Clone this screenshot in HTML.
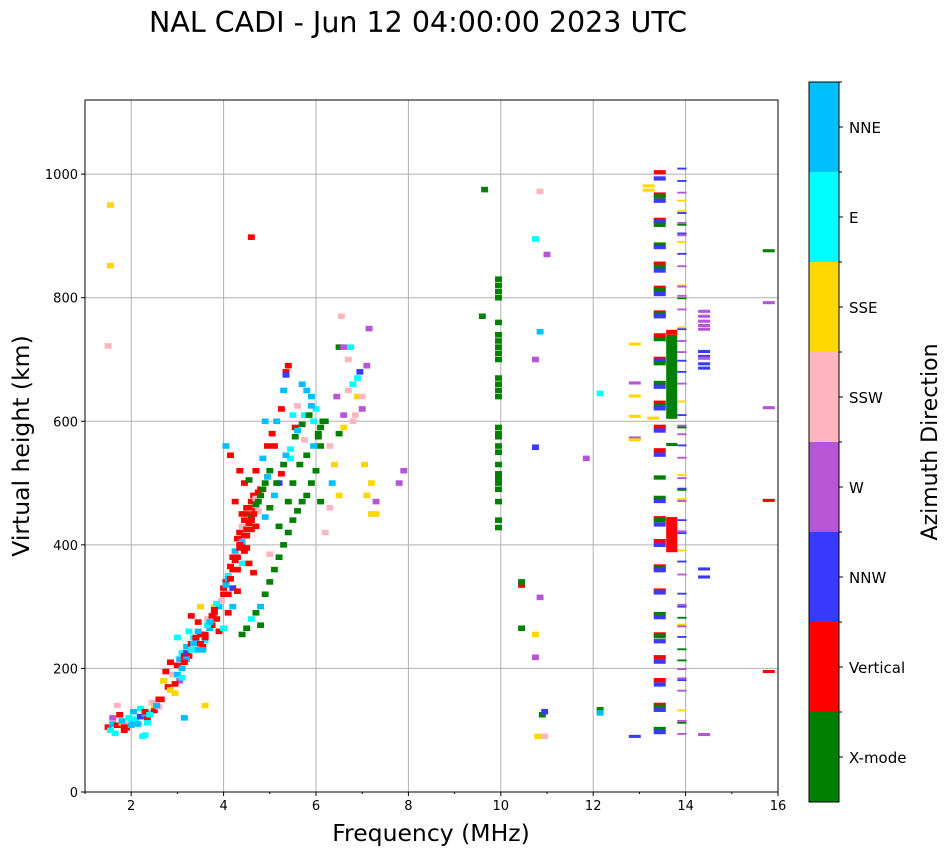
<!DOCTYPE html>
<html><head><meta charset="utf-8">
<style>
body{margin:0;background:#fff;font-family:"Liberation Sans","DejaVu Sans",sans-serif;}
svg text{font-family:"DejaVu Sans","Liberation Sans",sans-serif;}
</style></head>
<body>
<svg id="chart" width="951" height="856" viewBox="0 0 951 856" xmlns="http://www.w3.org/2000/svg">
<rect width="951" height="856" fill="#fff"/>
<text x="418" y="32" font-size="28.5" text-anchor="middle">NAL CADI - Jun 12 04:00:00 2023 UTC</text>
<g id="grid"></g>
<g id="marks"></g>
<rect x="85" y="100" width="693" height="692" fill="none" stroke="#000" stroke-width="1"/>
<g id="axes"></g>
<text x="431" y="841" font-size="23.5" text-anchor="middle">Frequency (MHz)</text>
<text transform="translate(29,446) rotate(-90)" font-size="23.5" text-anchor="middle">Virtual height (km)</text>
<g id="cbar"></g>
<text transform="translate(937,442) rotate(-90)" font-size="22" text-anchor="middle">Azimuth Direction</text>
</svg>
<script>
const catNames=["X-mode","Vertical","NNW","W","SSW","SSE","E","NNE"];
const catColors=["#008000","#ff0000","#3a3aff","#b655d6","#ffb6c1","#ffd700","#00ffff","#00bfff"];
const xTicks=[2,4,6,8,10,12,14,16];
const yTicks=[0,200,400,600,800,1000];

// main trace points (freq MHz, height km, category)
const traceFreq=[1.5,1.55,1.6,1.7,1.8,1.9,2.0,2.1,2.2,2.3,2.4,2.5,2.6,1.6,1.75,1.9,2.05,2.2,2.35,2.5,2.6,1.65,1.85,2.0,2.3,2.45,2.7,2.75,2.25,1.7,
2.8,2.9,3.0,3.05,3.1,3.15,3.2,3.3,3.35,3.4,3.5,3.55,3.6,3.7,3.75,2.95,3.05,3.25,3.45,3.65,3.8,3.1,3.3,3.5,2.85,3.0,3.2,3.4,3.6,3.8,3.9,
3.85,3.9,4.0,4.05,4.1,4.15,4.2,4.25,4.3,4.35,4.4,4.45,4.5,4.55,4.6,4.65,4.7,4.75,4.8,4.0,4.1,4.2,4.3,4.4,4.5,4.6,4.7,4.2,4.3,4.4,4.5,4.6,4.1,4.25,4.45,3.95,4.05,4.15,
4.4,4.5,4.6,4.7,4.8,4.9,5.0,5.1,5.2,5.3,5.4,5.5,5.6,5.7,5.8,5.9,6.0,5.0,5.2,5.5,5.8,6.1,4.8,5.4,5.65,
4.85,4.95,5.05,5.15,5.25,5.3,5.35,5.4,5.5,5.6,5.7,5.8,5.9,6.0,6.1,4.7,4.9,5.1,5.2,5.45,5.55,5.75,5.95,6.05,
6.2,6.3,6.5,6.5,6.6,6.7,6.8,6.9,7.0,7.1,7.2,7.3,6.4,6.6,6.8,7.0,7.15,6.3,6.5,6.7,6.9,7.05,7.2,7.3,6.2,6.6,6.45,6.85,7.1,7.8,7.9,6.1,6.35,6.55,6.75,6.95,
1.55,1.55,1.5,4.6,5.35,4.35,4.55,4.75,3.6,3.15,2.35,
3.5,3.55,3.6,3.65,3.7,3.75,3.8,3.85,3.45,3.4,3.35,3.3,3.25,3.2,3.15,4.3,4.35,4.4,4.45,4.5,4.55,4.6,4.65,4.7,4.75,4.8,4.85,4.9,4.95,5.0,4.4,4.5,4.6,4.7,4.35,4.45,4.55,4.65,4.0,4.05,4.1,4.15,4.2,4.25,
1.8,1.85,1.95,2.15,2.3,2.4,2.55,2.65,2.85,2.95,3.0,3.1,
4.9,5.0,5.1,5.15,5.25,5.3,5.35,5.45,5.55,5.6,5.7,5.75,5.85,5.9,5.95,6.05,6.15,
9.95,9.95,9.95,9.95,9.95,9.95,9.95,9.95,9.95,9.95,9.95,9.95,9.95,9.95,9.95,9.95,9.95,9.95,9.95,9.95,9.95,9.95,9.95,9.95,9.95,9.95,9.95,9.95,9.6,9.65,
10.45,10.45,10.45,10.75,10.75,10.85,10.9,10.95,10.8,10.95,10.85,10.75,11.0,10.85,10.75,10.75,11.85,12.15,12.15,12.15];
const traceHeight=[105,100,110,108,112,104,115,118,122,126,128,132,138,120,125,110,130,135,118,140,150,95,100,108,92,145,180,195,90,140,
170,190,205,215,225,220,235,240,250,245,255,235,245,265,270,160,180,260,275,280,290,200,285,300,210,250,225,230,255,300,260,
280,300,320,340,350,365,380,390,410,420,430,440,450,460,470,480,475,485,490,265,290,330,360,400,415,440,455,300,325,370,395,425,345,470,500,310,560,545,
255,265,280,290,300,320,340,360,380,400,420,440,455,470,480,500,520,385,430,500,545,560,270,470,530,
540,560,580,600,620,650,680,690,610,625,660,650,640,620,590,520,600,560,500,540,590,570,560,580,
600,560,580,720,720,700,660,640,620,480,450,450,530,610,600,640,750,460,480,650,670,530,500,470,420,590,640,610,690,500,520,470,500,770,720,680,
950,852,722,898,675,520,505,455,140,120,112,
240,230,250,270,275,285,295,305,260,250,240,230,220,215,210,380,395,405,415,425,435,445,450,465,470,480,490,500,510,520,450,460,440,430,400,390,370,355,330,335,320,345,360,375,
115,105,120,110,130,125,140,150,165,175,190,185,
445,460,480,500,515,530,545,555,575,585,595,610,610,625,600,575,600,
428,440,470,490,500,505,510,515,530,550,560,575,580,590,640,650,660,670,700,710,720,730,740,760,800,810,820,830,770,975,
335,340,265,255,218,315,125,130,90,90,972,895,870,745,700,558,540,645,133,128];
const traceCat=[1,6,7,1,5,1,7,6,2,7,6,1,4,3,1,4,7,6,1,5,1,6,1,7,6,4,5,1,6,4,
1,4,1,7,6,1,7,1,6,7,1,1,6,7,1,5,3,6,1,4,1,7,1,5,1,6,2,7,1,5,1,
1,7,1,1,6,1,1,7,1,1,4,1,1,1,1,1,4,1,1,6,1,2,1,1,1,7,1,7,1,6,1,1,7,1,1,4,7,1,
0,0,6,0,7,0,0,0,0,0,0,0,0,0,0,0,0,4,0,0,0,0,0,0,0,
7,1,1,7,1,7,1,1,6,4,7,7,7,6,0,1,7,1,2,6,1,4,7,0,
0,4,0,0,3,4,6,5,3,5,5,5,5,3,4,4,3,4,5,4,6,5,5,3,4,5,3,4,3,3,3,0,7,4,6,2,
5,5,4,1,2,1,0,4,5,7,6,
1,7,1,6,7,1,1,6,7,1,7,6,1,7,1,1,1,7,1,1,1,0,1,0,0,0,0,0,7,0,1,1,1,1,1,1,1,1,1,7,1,1,1,1,
7,1,6,7,1,6,7,1,5,1,7,6,
7,0,7,0,1,0,7,6,0,7,0,6,0,7,6,0,0,
0,0,0,0,0,0,0,0,0,0,0,0,0,0,0,0,0,0,0,0,0,0,0,0,0,0,0,0,0,0,
1,0,0,5,3,3,0,2,5,4,4,6,3,7,3,2,3,6,0,7];

// 13.45 MHz column (wide boxes)
const colAHeight=[1003,993,967,964,957,926,923,918,886,882,855,850,844,816,812,806,776,773,770,739,733,701,698,694,662,656,630,625,621,591,585,553,546,509,476,471,443,440,433,406,400,365,362,359,326,323,288,283,255,252,244,218,211,181,174,141,138,133,102,97];
const colACat=[1,2,1,0,2,1,2,0,0,2,1,0,2,1,0,2,1,0,2,1,0,1,2,0,0,2,1,0,2,1,2,1,2,0,0,2,1,0,2,1,2,1,0,2,1,2,0,2,1,0,2,1,2,1,2,1,0,2,0,2];

// 13.92 MHz column (thin lines)
const colBHeight=[1009,989,970,957,940,937,921,918,904,901,890,871,851,820,818,803,799,781,752,749,730,712,698,680,661,632,610,593,590,579,561,541,513,508,491,489,474,471,440,422,419,391,373,352,321,303,300,282,271,268,251,231,213,199,184,181,164,132,115,112,94];
const colBCat=[2,2,3,5,5,2,3,0,2,3,5,2,3,5,3,3,0,3,5,2,3,3,2,2,3,5,2,3,0,3,2,3,5,3,2,0,5,3,2,3,2,5,2,3,2,3,2,0,5,3,2,0,0,3,3,2,3,5,3,0,3];

// 14.4 MHz and 12.9-13.2 MHz, and right-edge lines
const colCFreq=[14.4,14.4,14.4,14.4,14.4,14.4,14.4,14.4,14.4,14.4,14.4,14.4,14.4,12.9,12.9,12.9,12.9,12.9,12.9,12.9,13.2,13.2,13.3,15.8,15.8,15.8,15.8,15.8];
const colCHeight=[778,770,762,755,749,713,705,702,693,686,361,348,93,725,641,662,608,573,570,90,981,974,605,876,792,622,472,195];
const colCCat=[3,3,3,3,3,2,2,3,2,2,2,2,3,5,5,3,5,3,5,2,5,5,5,0,3,3,1,1];

// 13.7 MHz tall bars
const barLow=[604,740,388,560];
const barHigh=[740,748,445,565];
const barCat=[0,1,1,0];

const X0=85,X1=778,Y0=792,Y1=100,FMIN=1,FMAX=16,HMIN=0,HMAX=1120;
function xs(f){return X0+(f-FMIN)/(FMAX-FMIN)*(X1-X0);}
function ys(h){return Y0-(h-HMIN)/(HMAX-HMIN)*(Y0-Y1);}
const NS="http://www.w3.org/2000/svg";
function mk(tag,attrs,parent){const e=document.createElementNS(NS,tag);for(const k in attrs)e.setAttribute(k,attrs[k]);parent.appendChild(e);return e;}
const grid=document.getElementById('grid'),marks=document.getElementById('marks'),axes=document.getElementById('axes'),cbar=document.getElementById('cbar');

xTicks.forEach(t=>{
  const g=mk('line',{x1:xs(t),x2:xs(t),y1:Y1,y2:Y0,stroke:'#b0b0b0','stroke-width':1},grid);
  
  
  const tk=mk('line',{x1:xs(t),x2:xs(t),y1:Y0,y2:Y0+4,stroke:'#000'},axes);
  
  
  const tx=mk('text',{x:xs(t),y:Y0+18,'font-size':13,'text-anchor':'middle'},axes);
  tx.textContent=t;
  
  
});
for(let m=1;m<=16;m+=2){
  const mt=mk('line',{x1:xs(m),x2:xs(m),y1:Y0,y2:Y0+2,stroke:'#000'},axes);
  
  
}
yTicks.forEach(t=>{
  const g=mk('line',{x1:X0,x2:X1,y1:ys(t),y2:ys(t),stroke:'#b0b0b0','stroke-width':1},grid);
  
  
  const tk=mk('line',{x1:X0-4,x2:X0,y1:ys(t),y2:ys(t),stroke:'#000'},axes);
  
  
  const tx=mk('text',{x:X0-7,y:ys(t)+5,'font-size':13,'text-anchor':'end'},axes);
  tx.textContent=t;
  
  
});

function box(f,h,c,wMHz,hKm,name){
  const x=xs(f-wMHz/2),w=xs(f+wMHz/2)-x,y=ys(h+hKm/2),hh=ys(h-hKm/2)-y;
  const r=mk('rect',{x:x,y:y,width:w,height:hh,fill:catColors[c]},marks);
  
  
}
traceFreq.forEach((f,i)=>box(f,traceHeight[i],traceCat[i],0.15,9,'echo-point'));
colAHeight.forEach((h,i)=>box(13.44,h,colACat[i],0.26,7,'echo-point-13mhz'));
colBHeight.forEach((h,i)=>box(13.92,h,colBCat[i],0.2,3,'echo-point-14mhz'));
colCFreq.forEach((f,i)=>box(f,colCHeight[i],colCCat[i],0.26,5,'echo-point-misc'));
barLow.forEach((lo,i)=>{
  const x=xs(13.58),w=xs(13.82)-x,y=ys(barHigh[i]),hh=ys(barLow[i])-y;
  const r=mk('rect',{x:x,y:y,width:w,height:hh,fill:catColors[barCat[i]]},marks);
  
  
});

// colorbar
const CB_X=809,CB_W=30,CB_TOP=82,CB_BOT=802,seg=(CB_BOT-CB_TOP)/catNames.length;
catNames.forEach((n,i)=>{
  const y=CB_BOT-(i+1)*seg;
  const r=mk('rect',{x:CB_X,y:y,width:CB_W,height:seg,fill:catColors[i]},cbar);
  
  
  const t=mk('line',{x1:CB_X+CB_W,x2:CB_X+CB_W+4,y1:y+seg/2,y2:y+seg/2,stroke:'#000'},cbar);
  
  
  const tx=mk('text',{x:CB_X+CB_W+10,y:y+seg/2+6,'font-size':15},cbar);
  tx.textContent=n;
  
  
  const b=mk('line',{x1:CB_X+CB_W,x2:CB_X+CB_W+3,y1:y,y2:y,stroke:'#000'},cbar);
  
  
});
const cf=mk('rect',{x:CB_X,y:CB_TOP,width:CB_W,height:CB_BOT-CB_TOP,fill:'none',stroke:'#000'},cbar);


</script>
</body></html>
